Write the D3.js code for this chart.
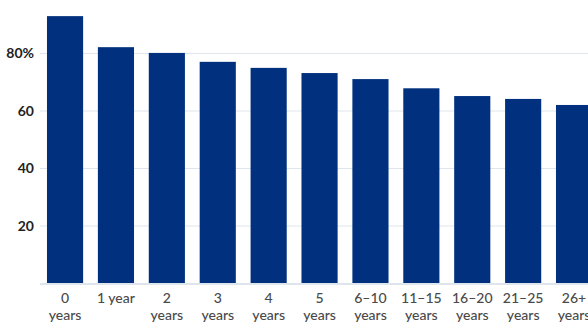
<!DOCTYPE html>
<html><head><meta charset="utf-8">
<script src="https://cdn.jsdelivr.net/npm/d3@7"></script>
<style>
body{margin:0;background:#fff;}
svg{display:block;font-family:Lato,"Open Sans",sans-serif;}
</style></head>
<body>
<svg id="chart" width="588" height="322"></svg>
<script>
const categories = ["0 years","1 year","2 years","3 years","4 years","5 years","6–10 years","11–15 years","16–20 years","21–25 years","26+ years"];
const values = [93.0, 82.2, 80.2, 77.1, 75.0, 73.2, 71.1, 67.9, 65.2, 64.2, 62.1];
const yTicks = [20, 40, 60, 80];
const yTickLabels = ["20", "40", "60", "80%"];

const svg = d3.select("#chart");
const x = d3.scaleBand().domain(categories).range([39.6, 599.5]).paddingInner(0.29).paddingOuter(0.145);
const y = d3.scaleLinear().domain([0, 100]).range([283.5, -4]);

// gridlines
svg.append("g").selectAll("line").data(yTicks).join("line")
  .attr("x1", 40).attr("x2", 588)
  .attr("y1", d => y(d)).attr("y2", d => y(d))
  .attr("stroke", "#dfe5ec").attr("stroke-width", 1);

// y axis labels
const yAxis = d3.axisLeft(y).tickValues(yTicks).tickSize(0).tickPadding(0)
  .tickFormat((d, i) => yTickLabels[i]);
const ya = svg.append("g").attr("transform", "translate(34,0)").call(yAxis);
ya.select(".domain").remove();
ya.selectAll("text").attr("font-size", 14).attr("font-weight", 700).attr("fill", "#222")
  .attr("font-family", "Lato, sans-serif");

// bars
svg.append("g").selectAll("rect").data(values).join("rect")
  .attr("x", (d, i) => x(categories[i]))
  .attr("width", x.bandwidth())
  .attr("y", d => y(d))
  .attr("height", d => y(0) - y(d))
  .attr("fill", "#01317e");

// baseline
svg.append("line").attr("x1", 40).attr("x2", 588)
  .attr("y1", y(0) + 0.5).attr("y2", y(0) + 0.5)
  .attr("stroke", "#dfe5ec").attr("stroke-width", 2);

// x labels
const xl = svg.append("g").selectAll("text").data(categories).join("text")
  .attr("x", d => x(d) + x.bandwidth() / 2)
  .attr("text-anchor", "middle")
  .attr("font-size", 14).attr("fill", "#4a4a4a").attr("font-weight", 500);
xl.each(function(d) {
  const parts = d === "1 year" ? ["1 year"] : [d.replace(/ years?$/, ""), "years"];
  const t = d3.select(this);
  parts.forEach((p, i) => {
    t.append("tspan").attr("x", x(d) + x.bandwidth() / 2).attr("y", 302.5 + i * 17.5).text(p);
  });
});
</script>
</body></html>
